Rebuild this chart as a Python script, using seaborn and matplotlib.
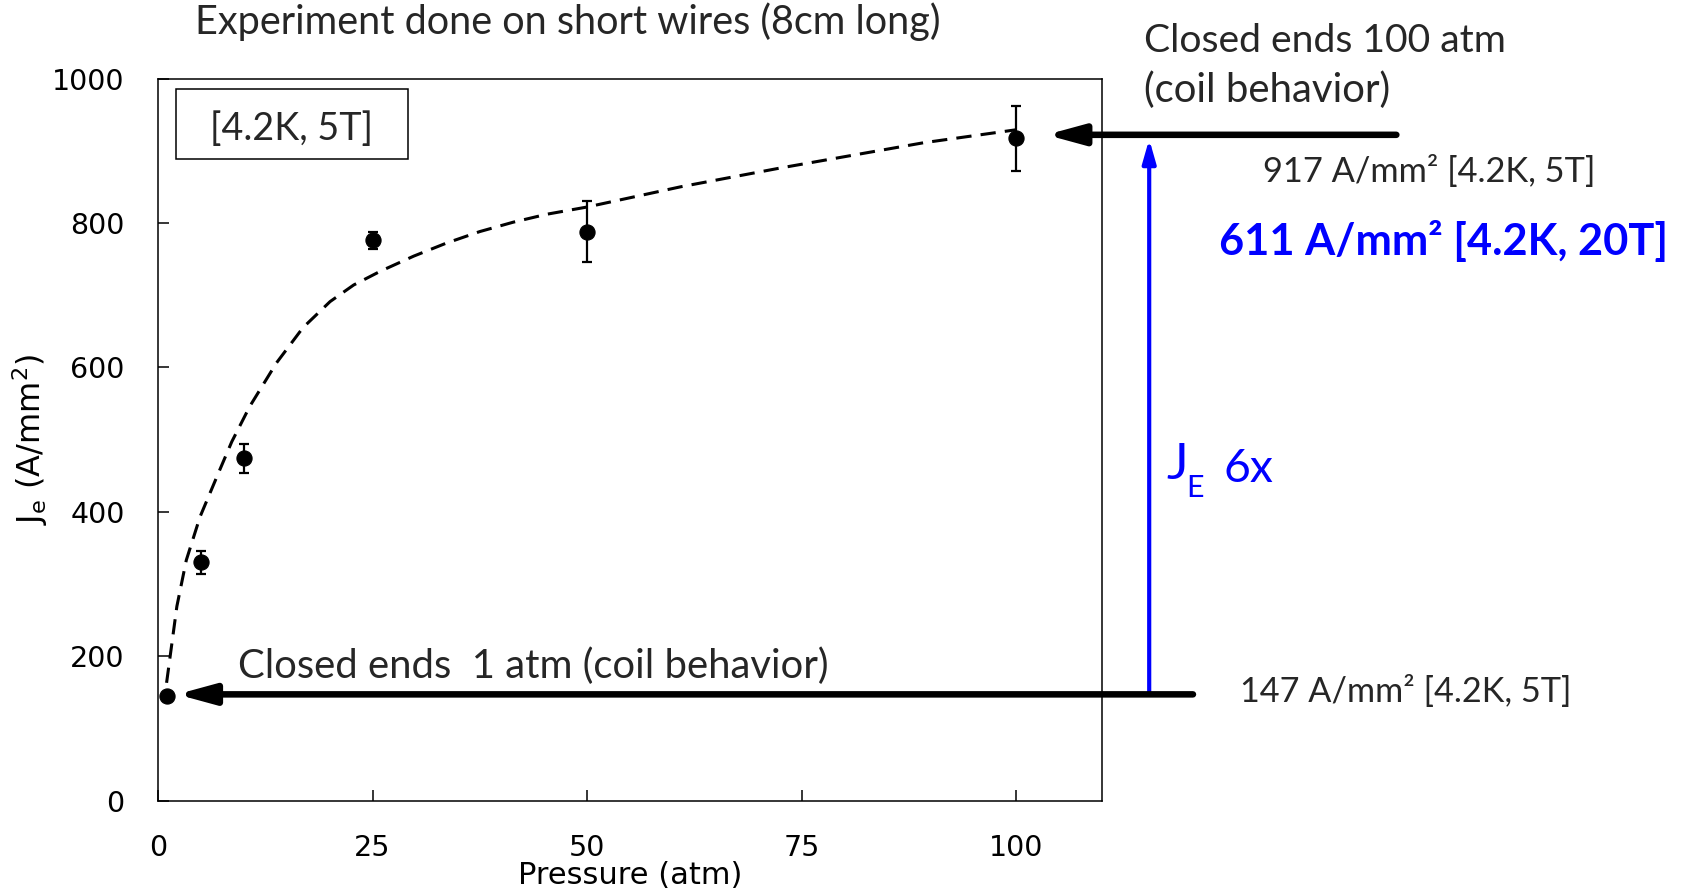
import matplotlib
matplotlib.use("Agg")
import matplotlib.pyplot as plt
from matplotlib.patches import Rectangle
import seaborn as sns

# ---- data ----
pressure = [1, 5, 10, 25, 50, 100]
je = [145, 330, 474, 776, 788, 917]
je_err = [0, 16, 20, 12, 42, 45]

fit_pressure = [1, 2.2, 3.3, 4.9, 7.2, 8.6, 10.7, 13.8, 16.9, 20.05, 22.8,
                25.9, 29.8, 33.6, 37.5, 41.4, 45.3, 50, 60.9, 72.5, 89.2, 100]
fit_je = [163, 269, 333, 393, 458, 497, 546, 606, 655, 691, 714,
          733, 754, 772, 788, 801, 812, 822, 850, 876, 911, 929]

x_ticks = [0, 25, 50, 75, 100]
y_ticks = [0, 200, 400, 600, 800, 1000]

je_low = 147
je_high = 922

title = "Experiment done on short wires (8cm long)"
box_label = "[4.2K, 5T]"
low_label = "Closed ends  1 atm (coil behavior)"
high_label1 = "Closed ends 100 atm"
high_label2 = "(coil behavior)"
high_value = "917 A/mm\u00b2 [4.2K, 5T]"
high_value_20T = "611 A/mm\u00b2 [4.2K, 20T]"
low_value = "147 A/mm\u00b2 [4.2K, 5T]"

# ---- figure ----
W, H = 1687, 893
sns.set_theme(style="white")
plt.rcParams["font.family"] = ["DejaVu Sans"]
fig = plt.figure(figsize=(W / 100, H / 100), dpi=100)
ax = fig.add_axes([158 / W, 1 - 800.5 / H, 944 / W, 722 / H])

sns.lineplot(x=fit_pressure, y=fit_je, ax=ax, color="black", lw=2.2,
             linestyle=(0, (5, 3)), sort=False)
ax.errorbar(pressure, je, yerr=je_err, fmt="none", ecolor="black",
            elinewidth=1.6, capsize=3.8, capthick=1.6, zorder=3)
sns.scatterplot(x=pressure, y=je, ax=ax, color="black", s=118,
                edgecolor="black", zorder=4)

ax.set_xlim(0, 110)
ax.set_ylim(0, 1000)
ax.set_xticks(x_ticks)
ax.set_yticks(y_ticks)
for s in ax.spines.values():
    s.set_visible(True)
    s.set_color("black")
    s.set_linewidth(1.1)
ax.tick_params(axis="both", direction="in", length=8, width=1.1,
               colors="black", labelsize=20.5, pad=24, top=False, right=False,
               bottom=True, left=True)

ax.set_xlabel("Pressure (atm)", fontsize=22, color="black")
ax.set_ylabel(r"J$_\mathrm{e}$ (A/mm$^2$)", fontsize=23, color="black")
ax.xaxis.set_label_coords(0.5, (800.5 - 875) / 722)
ax.xaxis.label.set_va("center")
ax.yaxis.set_label_coords((30 - 158) / 944, 0.5)
ax.yaxis.label.set_va("center")

# ---- annotations ----
renderer = fig.canvas.get_renderer()
txtfont = ["Lato", "DejaVu Sans"]


def ftext(px, py, s, width, va="baseline", **kw):
    t = fig.text(px / W, 1 - py / H, s, ha="left", va=va,
                 family=txtfont, fontsize=10, **kw)
    w = t.get_window_extent(renderer).width
    t.set_fontsize(10 * width / w)
    return t


ftext(195, 34, title, 748)
ftext(210, 140, box_label, 163)
fig.add_artist(Rectangle((176 / W, 1 - 159 / H), (408 - 176) / W, 70 / H,
                         transform=fig.transFigure, fill=False,
                         edgecolor="black", lw=1.1))
ftext(238, 678, low_label, 591)
ftext(1144, 52, high_label1, 362)
ftext(1144, 102, high_label2, 248)
ftext(1263, 182, high_value, 332)
ftext(1219, 255, high_value_20T, 448, color="#0000ff", fontweight="bold")
ftext(1240, 702, low_value, 331)

# J_E 6x
fig.text(1166 / W, 1 - 465 / H, "J", ha="left", va="center", family=txtfont,
         fontsize=37, color="#0000ff")
fig.text(1186 / W, 1 - 488 / H, "E", ha="left", va="center", family=txtfont,
         fontsize=22, color="#0000ff")
ftext(1224, 482, "6x", 50, color="#0000ff")

# arrows
black_arrow = dict(arrowstyle="-|>,head_length=1.1,head_width=0.3",
                   mutation_scale=20, lw=4.7, color="black",
                   shrinkA=0, shrinkB=0)
ax.annotate("", xy=(2.2, je_low), xytext=(120.6, je_low), xycoords="data",
            arrowprops=black_arrow, annotation_clip=False)
ax.annotate("", xy=(103.5, je_high), xytext=(144.3, je_high), xycoords="data",
            arrowprops=black_arrow, annotation_clip=False)
ax.annotate("", xy=(115.5, je_high - 6), xytext=(115.5, je_low),
            xycoords="data",
            arrowprops=dict(arrowstyle="-|>,head_length=1.4,head_width=0.4",
                            mutation_scale=10, lw=3.0, color="#0000ff",
                            shrinkA=0, shrinkB=0),
            annotation_clip=False, zorder=1)

fig.savefig("out.png", dpi=100)
